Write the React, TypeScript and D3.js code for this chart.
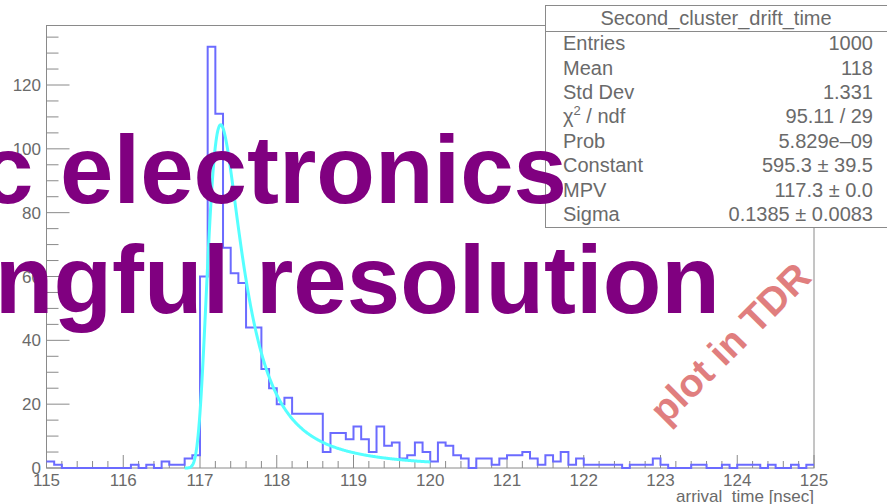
import React from "react";
import * as d3 from "d3";

// ---------- data ----------
const xMin = 115;
const xMax = 125;
const yMax = 138.8;
const counts: number[] = [
  2, 1, 0, 0, 0, 0, 0, 0, 0, 0,
  0, 1, 0, 1, 0, 2, 1, 1, 3, 4,
  60, 132, 111, 69, 61, 58, 44, 44, 31, 25,
  20, 22, 17, 17, 17, 17, 5, 11, 11, 9,
  13, 9, 5, 13, 7, 8, 3, 4, 8, 5,
  2, 8, 7, 4, 3, 0, 3, 3, 1, 3,
  4, 4, 5, 3, 1, 4, 2, 5, 1, 3,
  1, 1, 1, 1, 1, 0, 1, 1, 1, 3,
  1, 0, 0, 0, 1, 1, 0, 0, 1, 0,
  1, 1, 1, 0, 1, 0, 0, 1, 0, 1,
];
const xTickValues = [115, 116, 117, 118, 119, 120, 121, 122, 123, 124, 125];
const yTickValues = [0, 20, 40, 60, 80, 100, 120];
const xTitle = "arrival  time [nsec]";
const statsTitle = "Second_cluster_drift_time";
const statsLabels = ["Entries", "Mean", "Std Dev", "CHI2", "Prob", "Constant", "MPV", "Sigma"];
const statsValues = ["1000", "118", "1.331", "95.11 / 29", "5.829e\u201309", "595.3 \u00b1 39.5", "117.3 \u00b1 0.0", "0.1385 \u00b1 0.0083"];
const fitConstant = 595.3;
const fitMPV = 117.3;
const fitSigma = 0.1385;
const fitRange = [116.8, 120.0];
const overlayLines = ["c electronics", "ngful resolution"];
const watermark = "plot in TDR";

// ROOT / CERNLIB DENLAN Landau density
function landau(v: number): number {
  const p1 = [0.4259894875, -0.124976255, 0.039842437, -0.006298287635, 0.001511162253];
  const q1 = [1.0, -0.3388260629, 0.09594393323, -0.01608042283, 0.003778942063];
  const p2 = [0.1788541609, 0.1173957403, 0.01488850518, -0.001394989411, 0.0001283617211];
  const q2 = [1.0, 0.7428795082, 0.3153932961, 0.06694219548, 0.008790609714];
  const p3 = [0.1788544503, 0.09359161662, 0.006325387654, 0.00006611667319, -0.000002031049101];
  const q3 = [1.0, 0.6097809921, 0.2560616665, 0.04746722384, 0.006957301675];
  const p4 = [0.9874054407, 118.6723273, 849.279436, -743.7792444, 427.0262186];
  const q4 = [1.0, 106.8615961, 337.6496214, 2016.712389, 1597.063511];
  const a1 = [0.04166666667, -0.01996527778, 0.02709538966];
  const poly = (p: number[], t: number) => p[0] + (p[1] + (p[2] + (p[3] + p[4] * t) * t) * t) * t;
  if (v < -5.5) {
    const u = Math.exp(v + 1.0);
    if (u < 1e-10) return 0;
    const ue = Math.exp(-1 / u);
    const us = Math.sqrt(u);
    return 0.3989422803 * (ue / us) * (1 + (a1[0] + (a1[1] + a1[2] * u) * u) * u);
  } else if (v < -1) {
    const u = Math.exp(-v - 1);
    return Math.exp(-u) * Math.sqrt(u) * poly(p1, v) / poly(q1, v);
  } else if (v < 1) {
    return poly(p2, v) / poly(q2, v);
  } else if (v < 5) {
    return poly(p3, v) / poly(q3, v);
  } else {
    const u = 1 / v;
    return u * u * poly(p4, u) / poly(q4, u);
  }
}

const W = 887;
const H = 504;
const FONT = "'Liberation Sans', Arial, Helvetica, sans-serif";
const AXIS = "#8a8a8a";
const TXT = "#6a6a6a";

export default function App() {
  const x = d3.scaleLinear().domain([xMin, xMax]).range([46.5, 814]);
  const y = d3.scaleLinear().domain([0, yMax]).range([468, 25]);
  const nb = counts.length;
  const bw = (xMax - xMin) / nb;

  // histogram step path
  let hp = "";
  counts.forEach((c, i) => {
    const x0 = x(xMin + i * bw);
    const x1 = x(xMin + (i + 1) * bw);
    hp += (i === 0 ? `M${x0},${y(c)}` : `V${y(c)}`) + `H${x1}`;
  });

  // fit curve
  const fx = d3.range(0, 401).map((k) => fitRange[0] + (k / 400) * (fitRange[1] - fitRange[0]));
  const fitLine = d3
    .line<number>()
    .x((d) => x(d))
    .y((d) => y(fitConstant * landau((d - fitMPV) / fitSigma)))(fx);

  const xMinor = d3.range(0, 51).map((k) => xMin + k * 0.2);
  const yMinor = d3.range(0, 28).map((k) => k * 5);

  const rowY = [50, 74.5, 99, 123, 147.5, 172, 196.5, 221];

  return (
    <svg
      width={W}
      height={H}
      style={{ position: "fixed", left: 0, top: 0, background: "#fff" }}
      fontFamily={FONT}
    >
      <rect x={0} y={0} width={W} height={H} fill="#fff" />
      {/* frame */}
      <rect x={46.5} y={25.5} width={814 - 46.5} height={468 - 25.5} fill="none" stroke={AXIS} strokeWidth={1} />
      {/* x ticks */}
      {xMinor.map((v, i) => {
        const major = Math.abs(v - Math.round(v)) < 1e-6;
        return (
          <line key={"xm" + i} x1={x(v)} x2={x(v)} y1={468} y2={468 - (major ? 13 : 7)} stroke={AXIS} strokeWidth={1} />
        );
      })}
      {xTickValues.map((v) => (
        <text key={"xl" + v} x={x(v)} y={486} fontSize={17} fill={TXT} textAnchor="middle">
          {v}
        </text>
      ))}
      <text x={814} y={502} fontSize={17} fill={TXT} textAnchor="end" style={{ whiteSpace: "pre" }}>
        {xTitle}
      </text>
      {/* y ticks */}
      {yMinor.map((v, i) => {
        const major = v % 20 === 0;
        return (
          <line key={"ym" + i} x1={46.5} x2={46.5 + (major ? 23 : 12)} y1={y(v)} y2={y(v)} stroke={AXIS} strokeWidth={1} />
        );
      })}
      {yTickValues.map((v) => (
        <text key={"yl" + v} x={41} y={y(v) + 6} fontSize={17} fill={TXT} textAnchor="end">
          {v}
        </text>
      ))}
      {/* histogram */}
      <path d={hp} fill="none" stroke="#6b6bff" strokeWidth={2} />
      {/* fit */}
      <path d={fitLine || ""} fill="none" stroke="#55ffff" strokeWidth={3} />
      {/* stats box */}
      <rect x={545.5} y={5.5} width={360} height={222} fill="#fff" stroke={AXIS} strokeWidth={1} />
      <line x1={545.5} x2={900} y1={31.5} y2={31.5} stroke={AXIS} strokeWidth={1} />
      <text x={716} y={25} fontSize={20} fill={TXT} textAnchor="middle">
        {statsTitle}
      </text>
      {statsLabels.map((l, i) => (
        <text key={"sl" + i} x={563} y={rowY[i]} fontSize={20} fill={TXT}>
          {l === "CHI2" ? (
            <>
              <tspan>{"\u03c7"}</tspan>
              <tspan dy={-8} fontSize={13}>2</tspan>
              <tspan dy={8}>{" / ndf"}</tspan>
            </>
          ) : (
            l
          )}
        </text>
      ))}
      {statsValues.map((v, i) => (
        <text key={"sv" + i} x={873} y={rowY[i]} fontSize={20} fill={TXT} textAnchor="end">
          {v}
        </text>
      ))}
      {/* watermark */}
      <text
        x={0}
        y={0}
        transform="translate(730,343) rotate(-45)"
        fontSize={39}
        fontWeight="bold"
        fill="#e07e7e"
        textAnchor="middle"
        dominantBaseline="central"
      >
        {watermark}
      </text>
      {/* overlay text */}
      <text x={567} y={203} fontSize={96} fontWeight="bold" fill="#800080" textAnchor="end">
        {overlayLines[0]}
      </text>
      <text x={720} y={313} fontSize={96} fontWeight="bold" fill="#800080" textAnchor="end">
        {overlayLines[1]}
      </text>
    </svg>
  );
}
